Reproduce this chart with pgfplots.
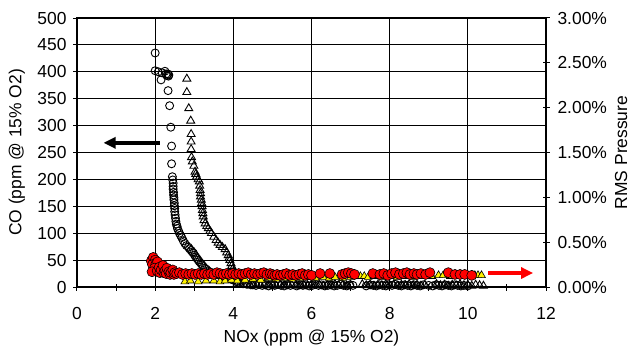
\documentclass[border=0pt]{standalone}
\usepackage{fontspec}
\setmainfont{Liberation Sans}
\usepackage{pgfplots}
\pgfplotsset{compat=1.18}
\usetikzlibrary{arrows.meta}

\pgfplotstableread{
x y
2.00 435
2.00 402
2.08 400
2.18 398
2.25 401
2.28 396
2.30 393
2.33 396
2.35 394
2.34 392
2.15 385
2.33 365
2.37 337
2.40 297
2.42 262
2.42 229
2.44 205
2.45 199
2.46 193
2.46 187
2.46 182
2.47 176
2.47 171
2.48 166
2.48 162
2.49 156
2.49 151
2.50 146
2.50 140
2.51 134
2.52 128
2.53 122
2.54 117
2.56 113
2.57 109
2.60 104
2.62 100
2.65 96
2.68 92
2.72 86
2.76 81
2.80 77
2.85 74
2.88 71
2.92 68
2.95 65
2.98 63
3.01 59
3.04 56
3.07 53
3.10 50
3.13 47
3.17 44
3.20 41
3.23 38
3.27 35
3.31 33
3.35 30
3.40 28
3.46 26
3.52 25
3.59 23
3.66 22
3.72 20
3.78 19
3.85 17
3.91 16
3.96 14
4.00 13
4.08 10
4.15 8
4.25 6
4.35 5
4.45 4
4.50 4
4.58 3
4.66 5
4.74 3
4.82 4
4.90 2
4.98 4
5.06 3
5.14 5
5.22 3
5.30 2
5.38 4
5.46 3
5.54 5
5.62 2
5.70 4
5.78 3
5.86 4
5.94 2
6.02 3
6.10 5
6.18 3
6.26 4
6.34 2
6.42 3
6.50 4
6.58 2
6.66 3
6.74 5
6.82 3
6.90 2
6.98 4
7.06 3
7.40 2
7.50 4
7.58 3
7.66 2
7.74 4
7.82 3
7.90 2
7.98 4
8.06 3
8.14 5
8.22 3
8.30 2
8.38 4
8.46 3
8.54 2
8.62 4
8.70 3
8.78 2
8.86 4
9.00 3
9.10 2
9.18 4
9.26 3
9.34 2
9.42 4
9.50 3
9.58 2
9.66 4
9.74 3
9.82 2
9.90 3
10.00 2
}\circA

\pgfplotstableread{
x y
2.81 387
2.81 362
2.86 332
2.91 309
2.92 284
2.92 270
2.92 256
2.93 241
2.95 233
2.99 225
3.02 214
3.04 210
3.06 205
3.10 200
3.13 196
3.14 188
3.15 180
3.16 174
3.16 168
3.18 162
3.19 156
3.20 150
3.21 143
3.22 137
3.23 131
3.25 124
3.28 118
3.32 113
3.36 109
3.40 104
3.44 100
3.50 93
3.56 87
3.61 82
3.66 78
3.72 74
3.79 70
3.83 64
3.87 59
3.89 54
3.91 50
3.94 44
3.96 39
3.98 33
4.00 28
4.02 23
4.04 19
4.07 13
4.10 8
4.18 6
4.26 5
4.34 4
4.42 5
4.50 3
4.60 4
4.70 3
4.80 5
4.90 3
5.00 4
5.10 2
5.20 4
5.30 3
5.40 5
5.50 3
5.60 4
5.70 2
5.80 4
5.90 3
6.00 5
6.10 3
6.20 4
6.30 2
6.40 4
6.50 3
6.60 5
6.70 3
6.80 4
6.90 2
7.00 4
7.30 5
7.40 3
7.50 4
7.60 2
7.70 4
7.80 3
7.90 5
8.00 3
8.10 4
8.20 2
8.30 4
8.40 3
8.50 5
8.60 3
8.70 4
8.80 2
8.90 4
9.20 5
9.30 3
9.40 4
9.50 2
9.60 4
9.70 3
9.80 5
9.90 3
10.00 4
10.10 2
10.20 4
10.30 3
10.40 2
}\triB

\pgfplotstableread{
x y
2.76 0.06
2.90 0.07
3.10 0.06
3.30 0.07
3.50 0.07
3.66 0.06
3.79 0.07
3.95 0.08
4.10 0.07
4.30 0.08
4.50 0.09
4.70 0.08
4.90 0.10
5.10 0.09
5.30 0.10
5.50 0.09
5.70 0.10
5.90 0.11
6.10 0.10
6.30 0.11
6.45 0.10
6.60 0.11
6.80 0.10
7.00 0.11
7.15 0.12
7.25 0.12
7.35 0.12
7.45 0.11
7.60 0.12
7.80 0.11
8.00 0.12
8.20 0.11
8.40 0.12
8.60 0.11
8.80 0.12
9.00 0.12
9.08 0.12
9.25 0.13
9.37 0.13
9.55 0.12
9.75 0.12
9.95 0.13
10.18 0.13
10.26 0.13
10.35 0.13
}\rmsB

\pgfplotstableread{
x y
1.90 0.29
1.95 0.33
2.00 0.30
1.93 0.25
2.02 0.26
2.06 0.28
1.98 0.21
1.92 0.17
2.05 0.18
2.10 0.22
2.12 0.16
2.15 0.19
2.20 0.24
2.22 0.16
2.25 0.18
2.28 0.15
2.30 0.21
2.35 0.17
2.38 0.14
2.40 0.16
2.45 0.19
2.48 0.14
2.50 0.16
2.55 0.15
2.62 0.16
2.70 0.14
2.78 0.15
2.86 0.14
2.94 0.15
3.02 0.14
3.10 0.15
3.18 0.14
3.26 0.15
3.34 0.14
3.42 0.15
3.50 0.14
3.58 0.16
3.66 0.15
3.74 0.14
3.82 0.15
3.90 0.14
3.98 0.15
4.06 0.14
4.14 0.15
4.22 0.14
4.30 0.15
4.38 0.16
4.46 0.14
4.54 0.15
4.62 0.14
4.70 0.15
4.78 0.16
4.86 0.14
4.94 0.15
5.00 0.14
5.06 0.13
5.12 0.14
5.20 0.13
5.28 0.14
5.36 0.15
5.44 0.13
5.52 0.14
5.60 0.13
5.68 0.14
5.76 0.15
5.84 0.13
5.92 0.14
6.00 0.13
6.22 0.15
6.47 0.15
6.78 0.14
6.86 0.15
6.94 0.16
7.02 0.15
7.10 0.14
7.57 0.15
7.75 0.14
7.85 0.15
7.95 0.13
8.05 0.15
8.15 0.16
8.25 0.14
8.35 0.15
8.44 0.16
8.52 0.14
8.62 0.15
8.70 0.14
8.80 0.15
8.92 0.14
9.03 0.16
9.50 0.16
9.67 0.14
9.80 0.14
9.92 0.14
10.10 0.13
}\rmsA

\begin{document}
\fontsize{17.5}{21}\selectfont
\begin{tikzpicture}
\useasboundingbox (-77bp,-67bp) rectangle (554bp,287bp);
\begin{axis}[
  scale only axis, width=469bp, height=269bp,
  at={(0,0)}, anchor=south west,
  xmin=0, xmax=12, ymin=0, ymax=500,
  xtick={0,2,4,6,8,10,12}, minor xtick={1,3,5,7,9,11},
  ytick={0,50,100,150,200,250,300,350,400,450,500},
  xtick pos=bottom, ytick pos=left,
  tick align=center,
  major tick length=7bp, minor tick length=7bp,
  tick style={black, line width=1bp},
  xmajorgrids, ymajorgrids,
  major grid style={black, line width=1bp},
  axis line style={black, line width=1.3bp},
  /pgf/number format/assume math mode=true,
  xticklabel style={yshift=-11bp},
  yticklabel style={xshift=-1bp},
  xlabel={NOx (ppm @ 15\% O2)},
  ylabel={CO (ppm @ 15\% O2)},
  xlabel style={at={(axis description cs:0.5,-0.19)}, anchor=center},
  ylabel style={at={(axis description cs:-0.128,0.5)}, anchor=center, rotate=0},
  clip=false,
]
\addplot[only marks, mark=o, mark size=4bp, black, mark options={line width=0.9bp}] table {\circA};
\addplot[only marks, mark=triangle, mark size=4.6bp, black, mark options={line width=0.9bp}] table {\triB};
\draw[black, line width=4bp, -{Triangle[length=12bp,width=11bp]}] (axis cs:2.12,268) -- (axis cs:0.68,268);
\draw[red, line width=3.5bp, -{Triangle[length=12bp,width=11bp]}] (axis cs:10.52,26) -- (axis cs:11.67,26);
\end{axis}
\begin{axis}[
  scale only axis, width=469bp, height=269bp,
  at={(0,0)}, anchor=south west,
  xmin=0, xmax=12, ymin=0, ymax=3,
  axis x line=none, axis y line*=right,
  ytick={0,0.5,1,1.5,2,2.5,3},
  tick align=center,
  major tick length=7bp,
  tick style={black, line width=1bp},
  axis line style={black, line width=1.3bp},
  /pgf/number format/assume math mode=true,
  yticklabel={\pgfmathprintnumber[fixed,fixed zerofill,precision=2]{\tick}\%},
  yticklabel style={xshift=2bp},
  ylabel={RMS Pressure},
  ylabel style={at={(axis description cs:1.16,0.5)}, anchor=center, rotate=0},
  clip=false,
]
\addplot[only marks, mark=triangle*, mark size=4.5bp, mark options={fill=yellow, draw=black, line width=0.6bp}] table {\rmsB};
\addplot[only marks, mark=*, mark size=5bp, mark options={fill=red, draw=black, line width=0.6bp}] table {\rmsA};
\end{axis}
\end{tikzpicture}
\end{document}
